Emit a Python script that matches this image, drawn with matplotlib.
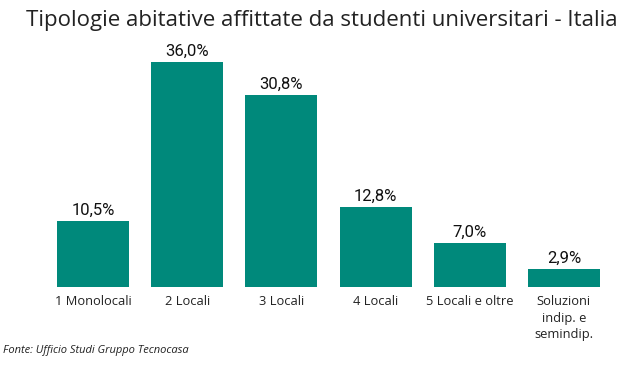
import matplotlib
matplotlib.use("Agg")
import matplotlib.pyplot as plt

categories = ["1 Monolocali", "2 Locali", "3 Locali", "4 Locali", "5 Locali e oltre", "Soluzioni\nindip. e\nsemindip."]
values = [10.5, 36.0, 30.8, 12.8, 7.0, 2.9]
value_labels = ["10,5%", "36,0%", "30,8%", "12,8%", "7,0%", "2,9%"]

W, H = 643, 367
fig = plt.figure(figsize=(W/100, H/100), dpi=100)
ax = fig.add_axes([46/W, 1-287/H, (611-46)/W, 250/H])
x = range(len(categories))
bars = ax.bar(x, values, width=0.764, color="#00897B")
ax.set_xlim(-0.5, len(categories)-0.5)
ax.set_ylim(0, 40)
for xi, v, lab in zip(x, values, value_labels):
    ax.text(xi, v + 0.5, lab, ha="center", va="bottom", fontsize=12, family="Roboto", color="#111111")
ax.set_xticks(list(x))
ax.set_xticklabels(categories, fontsize=9.3, family="Open Sans", color="#222222", linespacing=1.35)
ax.tick_params(axis="x", length=0, pad=6)
ax.set_yticks([])
for s in ax.spines.values():
    s.set_visible(False)

fig.text(322/W, 1-26/H, "Tipologie abitative affittate da studenti universitari - Italia",
         ha="center", va="baseline", fontsize=16, family="Open Sans", color="#222222")
fig.text(3/W, 1-350/H, "Fonte: Ufficio Studi Gruppo Tecnocasa", ha="left", va="center",
         fontsize=8, style="italic", family="Open Sans", color="#222222")
fig.savefig("out.png", dpi=100)
